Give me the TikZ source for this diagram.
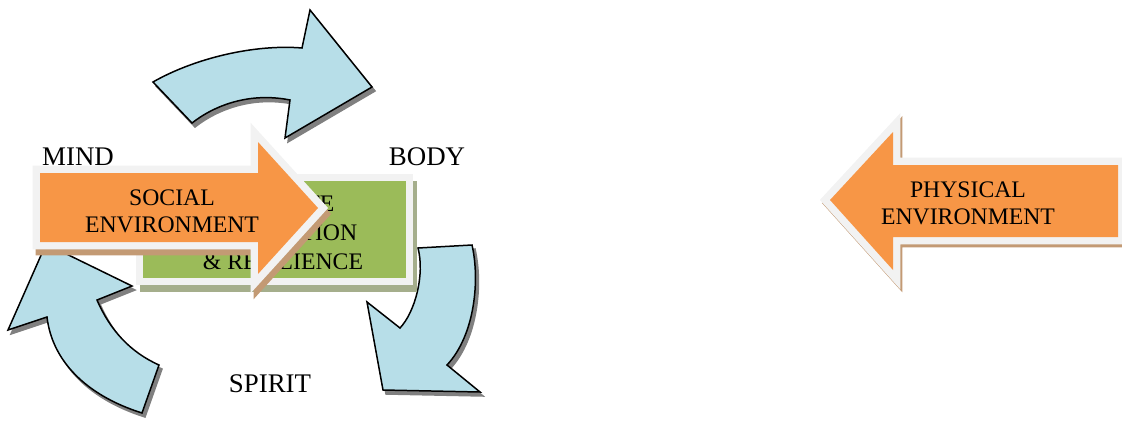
\documentclass[tikz,border=0pt]{standalone}
\usepackage{fontspec}
\setmainfont{Liberation Serif}
\usetikzlibrary{calc}
\definecolor{aqua}{HTML}{B7DEE8}
\definecolor{tangerine}{HTML}{F79646}
\definecolor{leafgreen}{HTML}{9BBB59}
\definecolor{rimgray}{HTML}{F2F2F2}
\definecolor{dropgray}{gray}{0.50}
\definecolor{rust}{HTML}{C39A74}
\definecolor{moss}{HTML}{A5AE8C}

\begin{document}
\begin{tikzpicture}[x=0.02cm, y=-0.02cm, font=\fontsize{13.5}{15.5}\selectfont,
    cyclearrow/.style={fill=aqua, draw=black, line width=0.85pt, line join=miter,
      preaction={fill=dropgray, draw=dropgray, line width=0.85pt, transform canvas={shift={(3,4)}}}},
    blockarrow/.style={fill=tangerine, line join=miter,
      preaction={fill=rust, draw=rust, line width=8.5pt, line join=miter, transform canvas={shift={(#1)}}},
      preaction={draw=rimgray, line width=8.5pt, line join=miter}},
    corebox/.style={fill=leafgreen, inner sep=0pt, minimum width=5.26cm, minimum height=1.94cm,
      preaction={fill=moss, draw=moss, line width=7.9pt, transform canvas={shift={(4,7)}}},
      preaction={draw=rimgray, line width=7.9pt}},
    label/.style={inner sep=0pt, align=center},
    corner/.style={label, font=\fontsize{15.3}{17}\selectfont}]
  \useasboundingbox (0,0) rectangle (1122,423);

  % the cycle
  \path[cyclearrow] (153,82) .. controls (195,58) and (255,44) .. (302,48) -- (310,10) -- (372,87)
    -- (285,138) -- (290,100) .. controls (250,92) and (215,105) .. (192,123) -- cycle;
  \path[cyclearrow] (418,248) -- (472,245) .. controls (480,280) and (475,335) .. (447,365) -- (480,392)
    -- (383,390) -- (367,302) -- (400,328) .. controls (415,312) and (425,275) .. (418,248) -- cycle;
  \path[cyclearrow] (142,413) .. controls (85,395) and (52,360) .. (47,317) -- (8,330) -- (46,244)
    -- (132,286) -- (97,300) .. controls (110,330) and (130,352) .. (159,365) -- cycle;

  \node[corner] (mind) at (78,157) {MIND};
  \node[corner] (body) at (427,157) {BODY};
  \node[corner] (spirit) at (270,384) {SPIRIT};

  % centre
  \node[corebox] (core) at (274.5,229.5) {};
  \node[label, font=\fontsize{13.5}{16.5}\selectfont] (coretext) at (283,233) {CLIMATE\\ADAPTATION\\\& RESILIENCE};

  % environments
  \path[blockarrow={3,6}] (40,173) -- (258,173) -- (258,142) -- (318,208) -- (258,274) -- (258,242) -- (40,242) -- cycle;
  \node[label] (social) at (172,211) {SOCIAL\\ENVIRONMENT};

  \path[blockarrow={2,3}] (1118,165) -- (893,165) -- (893,132) -- (830,200) -- (893,270) -- (893,237) -- (1118,237) -- cycle;
  \node[label] (physical) at (968,203) {PHYSICAL\\ENVIRONMENT};
\end{tikzpicture}
\end{document}
